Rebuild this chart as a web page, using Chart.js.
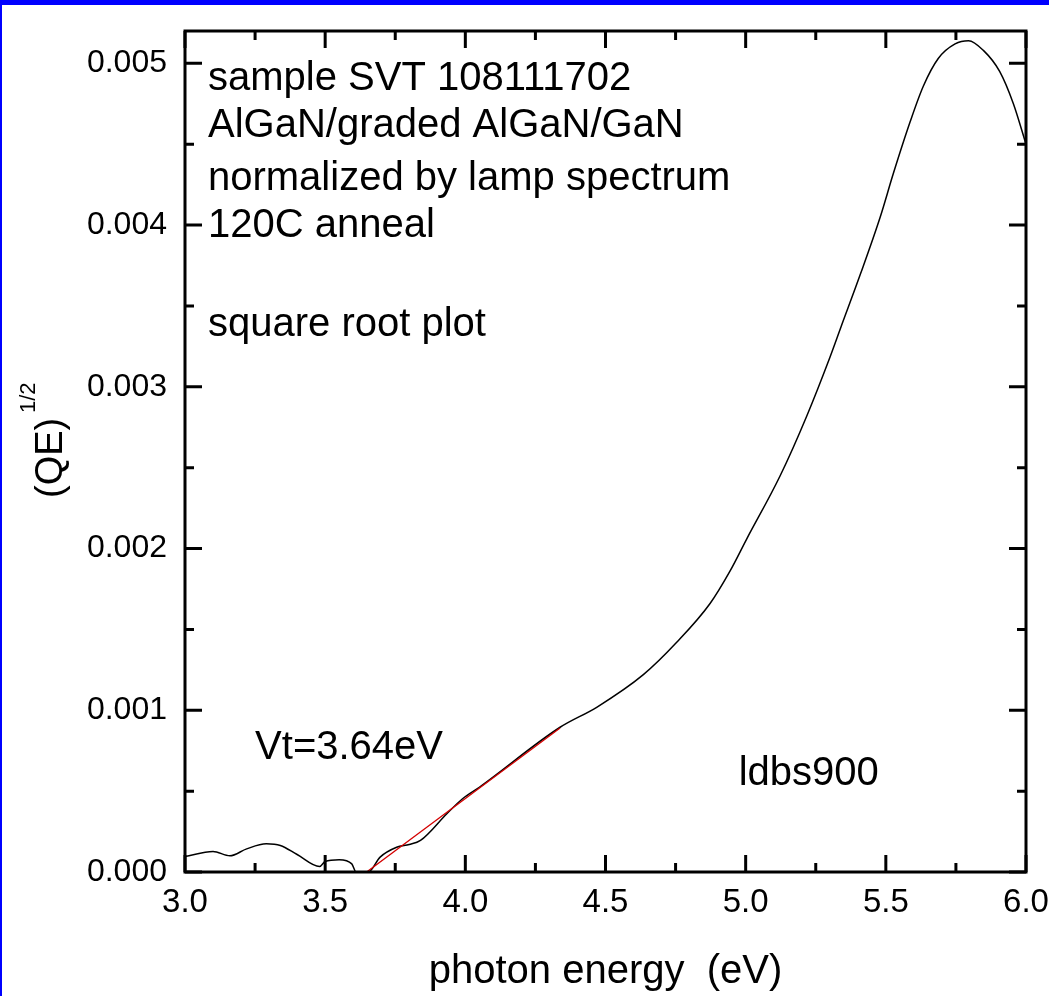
<!DOCTYPE html>
<html>
<head>
<meta charset="utf-8">
<script src="https://cdn.jsdelivr.net/npm/chart.js@4/dist/chart.umd.min.js"></script>
<style>
  html, body { margin: 0; padding: 0; background: #fff; }
  #qe-chart { display: block; }
</style>
</head>
<body>
<canvas id="qe-chart" width="1049" height="996"></canvas>
<script>
// photon energy (eV) and (QE)^1/2
const energy = [3.00, 3.10, 3.16, 3.22, 3.29, 3.34, 3.40, 3.48, 3.50, 3.55, 3.595, 3.61, 3.654,
  3.696, 3.755, 3.80, 3.84, 3.934, 3.99, 4.05, 4.338, 4.47, 4.635, 4.754, 4.873, 4.944, 5.004,
  5.123, 5.218, 5.30, 5.34, 5.41, 5.48, 5.527, 5.587, 5.634, 5.687, 5.747, 5.795, 5.848,
  5.906, 5.955, 6.00];
const sqrtQE = [0.000096, 0.000127, 0.000100, 0.000143, 0.000174, 0.000164, 0.000108, 0.000034,
  0.000065, 0.000075, 0.000050, 0.0, 0.0,
  0.000092, 0.000153, 0.000170, 0.000195, 0.000360, 0.000453, 0.000524, 0.000895, 0.00102,
  0.00122, 0.00142, 0.00166, 0.00186, 0.00206, 0.00245, 0.00282, 0.00318, 0.00337, 0.00370,
  0.00405, 0.00432, 0.00464, 0.00486, 0.00503, 0.00512, 0.00514, 0.00508, 0.00495, 0.00475, 0.0045];

// linear fit giving the threshold
const fitEnergy = [3.648, 4.338];
const fitQE = [0.0, 0.00089];

const xTicks = [3.0, 3.5, 4.0, 4.5, 5.0, 5.5, 6.0];
const yTicks = [0.000, 0.001, 0.002, 0.003, 0.004, 0.005];

// notes written on the plot: [text, eV, value]
const notes = [
  ['sample SVT 108111702', 3.082, 0.004833],
  ['AlGaN/graded AlGaN/GaN', 3.082, 0.004542],
  ['normalized by lamp spectrum', 3.082, 0.004215],
  ['120C anneal', 3.082, 0.003925],
  ['square root plot', 3.082, 0.003316],
  ['Vt=3.64eV', 3.25, 0.000697],
  ['ldbs900', 4.975, 0.000535]
];

function toPoints(xs, ys) {
  return xs.map((x, i) => ({ x: x, y: ys[i] }));
}

const frame = {
  id: 'frame',
  beforeDraw(chart) {
    const ctx = chart.ctx;
    ctx.save();
    ctx.fillStyle = '#fff';
    ctx.fillRect(0, 0, chart.width, chart.height);
    ctx.fillStyle = '#0000ff';
    ctx.fillRect(0, 0, chart.width, 5);
    ctx.fillRect(0, 0, 2, chart.height);
    ctx.restore();
  },
  afterDraw(chart) {
    const ctx = chart.ctx;
    const a = chart.chartArea;
    const xs = chart.scales.x, ys = chart.scales.y;
    ctx.save();
    ctx.strokeStyle = '#000';
    ctx.lineWidth = 3;
    ctx.strokeRect(a.left, a.top, a.right - a.left, a.bottom - a.top);

    // inward ticks on all four sides, majors and minors
    for (let i = 0; i <= 12; i++) {
      const v = 3 + i * 0.25;
      const px = xs.getPixelForValue(v);
      const len = i % 2 === 0 ? 17 : 9;
      ctx.beginPath();
      ctx.moveTo(px, a.bottom); ctx.lineTo(px, a.bottom - len);
      ctx.moveTo(px, a.top); ctx.lineTo(px, a.top + len);
      ctx.stroke();
    }
    for (let i = 0; i <= 10; i++) {
      const v = i * 0.0005;
      const py = ys.getPixelForValue(v);
      const len = i % 2 === 0 ? 17 : 9;
      ctx.beginPath();
      ctx.moveTo(a.left, py); ctx.lineTo(a.left + len, py);
      ctx.moveTo(a.right, py); ctx.lineTo(a.right - len, py);
      ctx.stroke();
    }

    // notes
    ctx.fillStyle = '#000';
    ctx.font = '40px "Liberation Sans", Arial, sans-serif';
    ctx.textAlign = 'left';
    ctx.textBaseline = 'alphabetic';
    notes.forEach(n => {
      ctx.fillText(n[0], xs.getPixelForValue(n[1]), ys.getPixelForValue(n[2]));
    });

    // y axis title with superscript
    ctx.translate(62, 459);
    ctx.rotate(-Math.PI / 2);
    ctx.font = '38px "Liberation Sans", Arial, sans-serif';
    ctx.fillText('(QE)', -39, 0);
    ctx.font = '22px "Liberation Sans", Arial, sans-serif';
    ctx.fillText('1/2', 46, -27);
    ctx.restore();
  }
};

new Chart(document.getElementById('qe-chart'), {
  type: 'scatter',
  data: {
    datasets: [
      {
        data: toPoints(fitEnergy, fitQE),
        showLine: true,
        borderColor: '#d40000',
        borderWidth: 1.3,
        pointRadius: 0,
        order: 0
      },
      {
        data: toPoints(energy, sqrtQE),
        showLine: true,
        borderColor: '#000',
        borderWidth: 1.5,
        pointRadius: 0,
        cubicInterpolationMode: 'monotone',
        order: 1
      }
    ]
  },
  options: {
    responsive: false,
    animation: false,
    layout: { padding: { left: 0, top: 31, right: 23, bottom: 0 } },
    plugins: {
      legend: { display: false },
      tooltip: { enabled: false }
    },
    scales: {
      x: {
        type: 'linear',
        min: 3,
        max: 6,
        afterBuildTicks: s => { s.ticks = xTicks.map(v => ({ value: v })); },
        afterFit: s => { s.height = 124; s.paddingLeft = 0; s.paddingRight = 0; },
        grid: { display: false, drawTicks: false },
        border: { display: false },
        ticks: {
          color: '#000',
          padding: 11,
          font: { family: '"Liberation Sans", Arial, sans-serif', size: 33 },
          callback: v => v.toFixed(1)
        },
        title: {
          display: true,
          text: 'photon energy  (eV)',
          color: '#000',
          padding: { top: 12, bottom: 0 },
          font: { family: '"Liberation Sans", Arial, sans-serif', size: 40 }
        }
      },
      y: {
        type: 'linear',
        min: 0,
        max: 0.0052,
        afterBuildTicks: s => { s.ticks = yTicks.map(v => ({ value: v })); },
        afterFit: s => { s.width = 185; s.paddingTop = 0; s.paddingBottom = 0; },
        grid: { display: false, drawTicks: false },
        border: { display: false },
        ticks: {
          color: '#000',
          padding: 18,
          font: { family: '"Liberation Sans", Arial, sans-serif', size: 32 },
          callback: v => v.toFixed(3)
        }
      }
    }
  },
  plugins: [frame]
});
</script>
</body>
</html>
